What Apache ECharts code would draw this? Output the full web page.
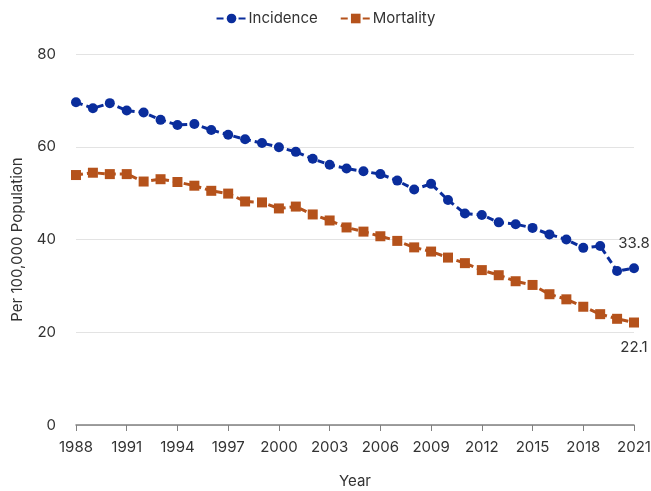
<!DOCTYPE html>
<html>
<head>
<meta charset="utf-8">
<script src="https://cdn.jsdelivr.net/npm/echarts@6/dist/echarts.min.js"></script>
<style>html,body{margin:0;padding:0;background:#fff;}#c{width:651px;height:491px;}</style>
</head>
<body>
<div id="c"></div>
<script>
var years = ['1988','1989','1990','1991','1992','1993','1994','1995','1996','1997','1998','1999','2000','2001','2002','2003','2004','2005','2006','2007','2008','2009','2010','2011','2012','2013','2014','2015','2016','2017','2018','2019','2020','2021'];
var incidence = [69.6,68.3,69.4,67.8,67.4,65.8,64.7,64.9,63.6,62.6,61.6,60.8,59.9,58.9,57.4,56.1,55.3,54.7,54.1,52.7,50.8,52.0,48.5,45.6,45.3,43.7,43.3,42.5,41.1,40.0,38.2,38.6,33.2,33.8];
var mortality = [53.9,54.4,54.1,54.1,52.5,53.0,52.4,51.6,50.5,49.9,48.2,48.0,46.7,47.1,45.4,44.1,42.6,41.7,40.7,39.7,38.3,37.4,36.1,34.9,33.4,32.3,31.0,30.2,28.2,27.1,25.5,23.9,22.9,22.1];
var yTicks = [0,20,40,60,80];

var font = 'Inter';
var chart = echarts.init(document.getElementById('c'));
function lastLabel(pos) {
  return {
    show: true, position: pos, distance: 12, color: '#333', fontSize: 15, fontFamily: font,
    formatter: function (p) { return p.dataIndex === years.length - 1 ? p.value.toFixed(1) : ''; }
  };
}
chart.setOption({
  animation: false,
  textStyle: { fontFamily: font },
  legend: {
    top: 6, left: 'center', itemWidth: 30, itemHeight: 12, itemGap: 22,
    textStyle: { fontSize: 15, color: '#333', fontFamily: font, padding: [0, 0, 0, -3] },
    data: ['Incidence', 'Mortality']
  },
  grid: { left: 76, right: 17, top: 54, bottom: 66, containLabel: false, outerBoundsMode: 'none' },
  xAxis: {
    type: 'category', data: years, boundaryGap: false,
    name: 'Year', nameLocation: 'middle', nameGap: 49,
    nameTextStyle: { fontSize: 15, color: '#333', fontFamily: font },
    axisLine: { lineStyle: { color: '#808080', width: 1.5 } },
    axisTick: { interval: 2, length: 6, lineStyle: { color: '#808080' } },
    axisLabel: { interval: 2, fontSize: 15, color: '#333', margin: 15, fontFamily: font }
  },
  yAxis: {
    type: 'value', min: yTicks[0], max: yTicks[yTicks.length - 1], interval: 20,
    name: 'Per 100,000 Population', nameLocation: 'middle', nameGap: 51,
    nameTextStyle: { fontSize: 15, color: '#333', fontFamily: font },
    axisLine: { show: false }, axisTick: { show: false },
    axisLabel: { fontSize: 15, color: '#333', margin: 20, fontFamily: font },
    splitLine: { lineStyle: { color: '#e3e3e3', width: 1 } }
  },
  series: [
    {
      name: 'Incidence', type: 'line', data: incidence,
      symbol: 'circle', symbolSize: 10,
      itemStyle: { color: '#0a2d9c' },
      lineStyle: { color: '#0a2d9c', width: 3, type: [7, 4] },
      label: lastLabel('top')
    },
    {
      name: 'Mortality', type: 'line', data: mortality,
      symbol: 'rect', symbolSize: 10,
      itemStyle: { color: '#b5521b' },
      lineStyle: { color: '#b5521b', width: 3, type: [7, 4] },
      label: lastLabel('bottom')
    }
  ]
});
</script>
</body>
</html>
